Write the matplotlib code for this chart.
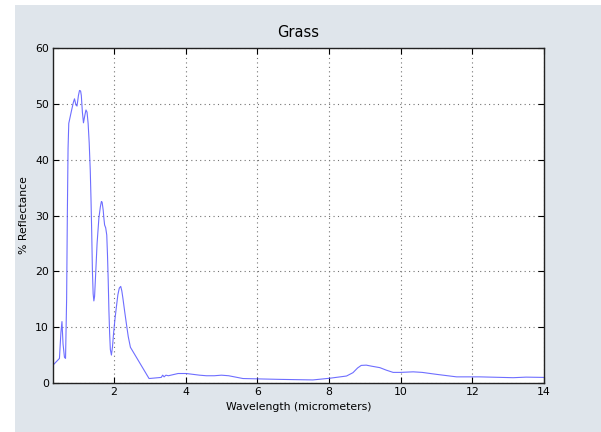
import matplotlib
matplotlib.use("Agg")
import matplotlib.pyplot as plt
from matplotlib.patches import Rectangle

# grass reflectance spectrum, wavelength in micrometers
wavelength = [0.30, 0.48, 0.52, 0.55, 0.58, 0.62, 0.65, 0.68, 0.70, 0.72,
              0.74, 0.81, 0.87, 0.90, 0.94, 0.97, 1.01, 1.04, 1.07, 1.09,
              1.12, 1.15, 1.19, 1.22, 1.25, 1.28, 1.31, 1.34, 1.36, 1.38,
              1.40, 1.42, 1.44, 1.46, 1.49, 1.53, 1.58, 1.62, 1.65, 1.67,
              1.70, 1.72, 1.74, 1.77, 1.80, 1.82, 1.84, 1.86, 1.88, 1.90,
              1.93, 1.96, 1.99, 2.03, 2.07, 2.11, 2.15, 2.19, 2.22, 2.25,
              2.30, 2.35, 2.40, 2.46, 2.98, 3.32, 3.36, 3.40, 3.45, 3.52,
              3.79, 4.02, 4.39, 4.58, 4.80, 5.00, 5.20, 5.60, 6.62, 7.55,
              8.02, 8.49, 8.67, 8.80, 8.90, 9.04, 9.20, 9.42, 9.60, 9.79,
              10.00, 10.35, 10.60, 11.00, 11.56, 12.20, 13.14, 13.50, 14.00]
reflectance = [3.2, 4.4, 9.0, 11.0, 7.0, 4.6, 4.4, 15.0, 30.0, 42.0,
               46.5, 48.6, 50.3, 50.9, 49.8, 49.6, 51.5, 52.4, 52.3, 51.5,
               48.5, 46.6, 48.0, 48.9, 48.5, 46.5, 43.0, 38.0, 33.0, 27.0,
               20.0, 16.0, 14.7, 15.5, 19.5, 25.0, 29.5, 31.5, 32.5, 32.4,
               31.0, 29.5, 28.3, 27.8, 26.5, 23.0, 18.5, 13.0, 8.9, 6.0,
               5.0, 6.5, 8.9, 11.5, 13.7, 15.8, 17.0, 17.3, 16.5, 15.2,
               12.8, 10.5, 8.3, 6.4, 0.8, 1.0, 1.4, 1.1, 1.4, 1.3,
               1.7, 1.7, 1.4, 1.3, 1.3, 1.4, 1.3, 0.8, 0.65, 0.55,
               0.85, 1.25, 1.85, 2.7, 3.15, 3.2, 3.0, 2.75, 2.3, 1.9,
               1.9, 2.0, 1.9, 1.55, 1.1, 1.1, 0.95, 1.05, 1.0]

fig = plt.figure(figsize=(6.01, 4.32), dpi=100, facecolor="white")
# grey-blue canvas with a thin white strip on the left and top
fig.patches.append(Rectangle((15 / 601, 0), 1, 1 - 5 / 432, transform=fig.transFigure,
                             facecolor="#dfe5eb", edgecolor="none", zorder=-10))

ax = fig.add_axes([53 / 601, 49 / 432, 491 / 601, 335 / 432])
ax.plot(wavelength, reflectance, color="#5555ff", linewidth=0.8, alpha=0.85)

ax.set_xlim(min(wavelength), max(wavelength))
ax.set_ylim(0, 60)
ax.set_xticks([2, 4, 6, 8, 10, 12, 14])
ax.set_yticks([0, 10, 20, 30, 40, 50, 60])
ax.grid(True, color="0.45", linestyle=(0, (1, 3)), linewidth=0.8)
ax.tick_params(direction="in", top=True, right=True, length=4, width=0.8,
               labelsize=7.8, colors="black", pad=3)
for spine in ax.spines.values():
    spine.set_linewidth(1.0)
    spine.set_color("#222222")

ax.set_title("Grass", fontsize=10.5, pad=8)
ax.set_xlabel("Wavelength (micrometers)", fontsize=7.8, labelpad=3.5)
ax.set_ylabel("% Reflectance", fontsize=7.8, labelpad=4)

fig.savefig("out.png", dpi=100, facecolor=fig.get_facecolor())
